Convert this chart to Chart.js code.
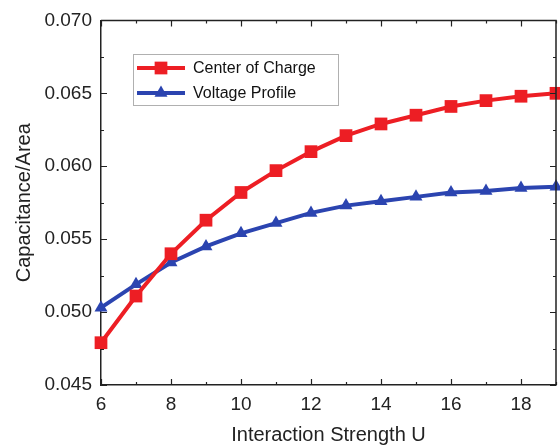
<!DOCTYPE html>
<html>
<head>
<meta charset="utf-8">
<script src="https://cdn.jsdelivr.net/npm/chart.js@4"></script>
<style>
  html, body { margin: 0; padding: 0; background: #fff; }
  #wrap { width: 560px; height: 447px; }
</style>
</head>
<body>
<div id="wrap"><canvas id="chart" width="560" height="447"></canvas></div>
<script>
// --- data ---
const interactionU = [6, 7, 8, 9, 10, 11, 12, 13, 14, 15, 16, 17, 18, 19];
const centerOfCharge = [0.0479, 0.0511, 0.0540, 0.0563, 0.0582, 0.0597, 0.0610, 0.0621, 0.0629, 0.0635, 0.0641, 0.0645, 0.0648, 0.0650];
const voltageProfile = [0.0503, 0.0519, 0.0534, 0.0545, 0.0554, 0.0561, 0.0568, 0.0573, 0.0576, 0.0579, 0.0582, 0.0583, 0.0585, 0.0586];
const xTickValues = [6, 8, 10, 12, 14, 16, 18];
const yTickLabels = ['0.045', '0.050', '0.055', '0.060', '0.065', '0.070'];

const RED = 'rgb(237, 30, 36)';
const BLUE = 'rgb(43, 68, 176)';
const FONT = '"Liberation Sans", Arial, sans-serif';

// frame on top/right + inward major/minor ticks
const frameTicks = {
  id: 'frameTicks',
  afterDatasetsDraw(chart) {
    const { ctx, chartArea: a, scales: { x, y } } = chart;
    ctx.save();
    ctx.strokeStyle = '#222';
    ctx.lineWidth = 1.5;
    ctx.beginPath();
    ctx.moveTo(a.left, a.top); ctx.lineTo(a.right, a.top); ctx.lineTo(a.right, a.bottom);
    ctx.stroke();
    ctx.lineWidth = 1.2;
    ctx.beginPath();
    for (let v = 6; v <= 19; v++) {
      const px = Math.round(x.getPixelForValue(v)) + 0.5;
      const len = v % 2 === 0 ? 6 : 3;
      ctx.moveTo(px, a.bottom); ctx.lineTo(px, a.bottom - len);
      ctx.moveTo(px, a.top); ctx.lineTo(px, a.top + len);
    }
    for (let i = 0; i <= 10; i++) {
      const v = 0.045 + i * 0.0025;
      const py = Math.round(y.getPixelForValue(v)) + 0.5;
      const len = i % 2 === 0 ? 6 : 3;
      ctx.moveTo(a.left, py); ctx.lineTo(a.left + len, py);
      ctx.moveTo(a.right, py); ctx.lineTo(a.right - len, py);
    }
    ctx.stroke();
    ctx.restore();
  }
};

// legend box drawn inside the plot
const insideLegend = {
  id: 'insideLegend',
  afterDraw(chart) {
    const ctx = chart.ctx;
    const bx = 133, by = 54, bw = 205, bh = 51;
    ctx.save();
    ctx.fillStyle = '#fff';
    ctx.fillRect(bx, by, bw, bh);
    ctx.strokeStyle = '#b0b0b0';
    ctx.lineWidth = 1;
    ctx.strokeRect(bx + 0.5, by + 0.5, bw, bh);
    chart.data.datasets.forEach((ds, i) => {
      const cy = by + 14 + i * 25;
      ctx.strokeStyle = ds.borderColor;
      ctx.lineWidth = ds.borderWidth;
      ctx.beginPath();
      ctx.moveTo(137, cy); ctx.lineTo(185, cy);
      ctx.stroke();
      ctx.fillStyle = ds.pointBackgroundColor;
      Chart.helpers.drawPoint(ctx, {
        pointStyle: ds.pointStyle, radius: ds.pointRadius, borderWidth: 0
      }, 161, cy);
      ctx.fillStyle = '#111';
      ctx.font = '16px ' + FONT;
      ctx.textBaseline = 'middle';
      ctx.fillText(ds.label, 193, cy + 1);
    });
    ctx.restore();
  }
};

new Chart(document.getElementById('chart'), {
  type: 'line',
  data: {
    datasets: [
      {
        label: 'Center of Charge',
        data: interactionU.map((u, i) => ({ x: u, y: centerOfCharge[i] })),
        borderColor: RED, backgroundColor: RED, pointBackgroundColor: RED,
        borderWidth: 4, pointStyle: 'rect', pointRadius: 9, pointBorderWidth: 0
      },
      {
        label: 'Voltage Profile',
        data: interactionU.map((u, i) => ({ x: u, y: voltageProfile[i] })),
        borderColor: BLUE, backgroundColor: BLUE, pointBackgroundColor: BLUE,
        borderWidth: 4, pointStyle: 'triangle', pointRadius: 7.5, pointBorderWidth: 0
      }
    ]
  },
  options: {
    responsive: false,
    animation: false,
    clip: false,
    layout: { autoPadding: false, padding: { left: 0, right: 4, top: 18, bottom: 0 } },
    plugins: { legend: { display: false }, tooltip: { enabled: false } },
    scales: {
      x: {
        type: 'linear', min: 6, max: 19,
        afterBuildTicks: s => { s.ticks = xTickValues.map(v => ({ value: v })); },
        afterFit: s => { s.height = 62; },
        grid: { display: false, drawTicks: false },
        border: { display: true, color: '#222', width: 1.5 },
        ticks: { color: '#222', font: { family: FONT, size: 19 }, padding: 8 },
        title: { display: true, text: 'Interaction Strength U', color: '#222', font: { family: FONT, size: 20 }, padding: { top: 2, bottom: 0 } }
      },
      y: {
        type: 'linear', min: 0.045, max: 0.070,
        afterBuildTicks: s => { s.ticks = yTickLabels.map(t => ({ value: parseFloat(t) })); },
        afterFit: s => { s.width = 101; },
        grid: { display: false, drawTicks: false },
        border: { display: true, color: '#222', width: 1.5 },
        ticks: {
          color: '#222', font: { family: FONT, size: 19 }, padding: 9,
          callback: (v, i) => yTickLabels[i]
        },
        title: { display: true, text: 'Capacitance/Area', color: '#222', font: { family: FONT, size: 20 }, padding: { top: 12, bottom: 0 } }
      }
    }
  },
  plugins: [frameTicks, insideLegend]
});
</script>
</body>
</html>
